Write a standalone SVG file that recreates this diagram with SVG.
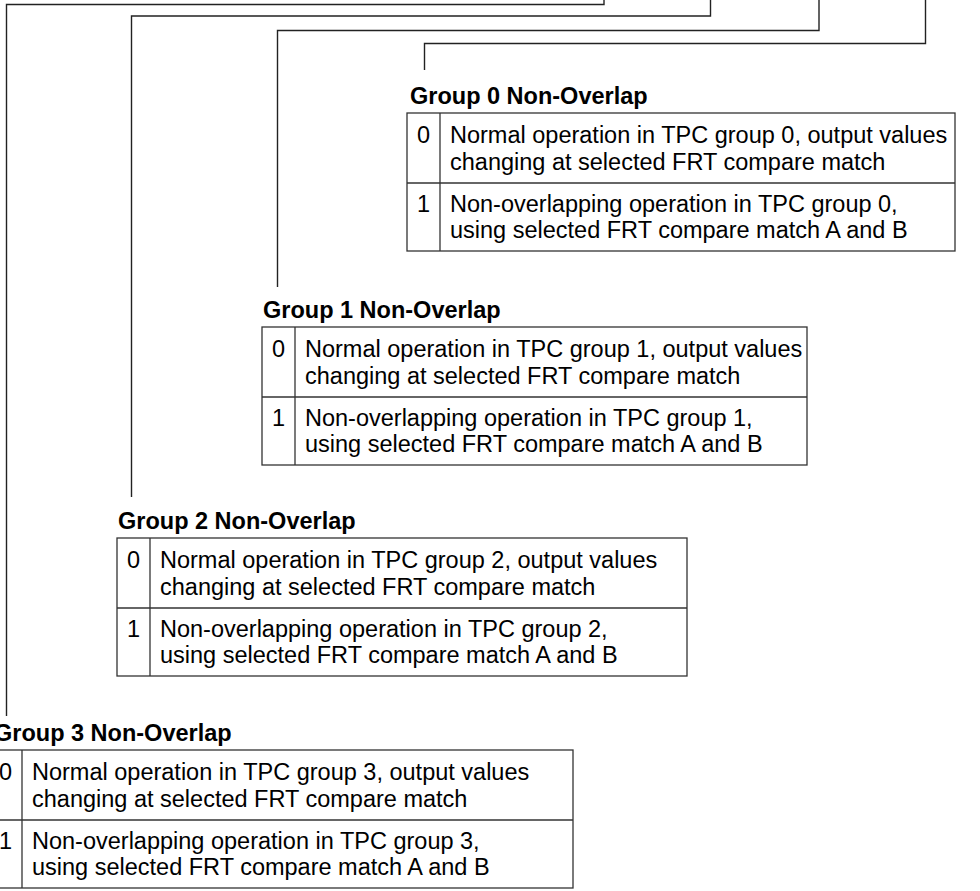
<svg xmlns="http://www.w3.org/2000/svg" width="980" height="891" viewBox="0 0 980 891">
<style>
.bg{fill:#fff}
.con{fill:none;stroke:#222;stroke-width:1.4}
.box{fill:#fff;stroke:#333;stroke-width:1.3}
.div{stroke:#333;stroke-width:1.3}
.title{font-family:"Liberation Sans",Arial,sans-serif;font-weight:bold;font-size:23.5px;fill:#000}
.t{font-family:"Liberation Sans",Arial,sans-serif;font-size:23.5px;fill:#000}
.d{font-family:"Liberation Sans",Arial,sans-serif;font-size:23.5px;fill:#000;text-anchor:middle}
</style>
<rect class="bg" x="0" y="0" width="980" height="891"/>
<g id="connectors">
<path class="con" d="M925.5,0 V43.5 H424.5 V70"/>
<path class="con" d="M819,0 V30.5 H277.5 V287"/>
<path class="con" d="M710.5,0 V16 H131.5 V497"/>
<path class="con" d="M604,0 V4.5 H6.5 V716"/>
</g>
<g id="group0" transform="translate(407,113)">
<text class="title" x="3" y="-9">Group 0 Non-Overlap</text>
<rect class="box" x="0" y="0" width="548" height="138"/>
<line class="div" x1="33" y1="0" x2="33" y2="138"/>
<line class="div" x1="0" y1="70" x2="548" y2="70"/>
<text class="d" x="16.5" y="30">0</text>
<text class="t" x="43" y="30">Normal operation in TPC group 0, output values</text>
<text class="t" x="43" y="57">changing at selected FRT compare match</text>
<text class="d" x="16.5" y="99">1</text>
<text class="t" x="43" y="99">Non-overlapping operation in TPC group 0,</text>
<text class="t" x="43" y="125">using selected FRT compare match A and B</text>
</g>
<g id="group1" transform="translate(262,327)">
<text class="title" x="1" y="-9">Group 1 Non-Overlap</text>
<rect class="box" x="0" y="0" width="545" height="138"/>
<line class="div" x1="33" y1="0" x2="33" y2="138"/>
<line class="div" x1="0" y1="70" x2="545" y2="70"/>
<text class="d" x="16.5" y="30">0</text>
<text class="t" x="43" y="30">Normal operation in TPC group 1, output values</text>
<text class="t" x="43" y="57">changing at selected FRT compare match</text>
<text class="d" x="16.5" y="99">1</text>
<text class="t" x="43" y="99">Non-overlapping operation in TPC group 1,</text>
<text class="t" x="43" y="125">using selected FRT compare match A and B</text>
</g>
<g id="group2" transform="translate(117,538)">
<text class="title" x="1" y="-9">Group 2 Non-Overlap</text>
<rect class="box" x="0" y="0" width="570" height="138"/>
<line class="div" x1="33" y1="0" x2="33" y2="138"/>
<line class="div" x1="0" y1="70" x2="570" y2="70"/>
<text class="d" x="16.5" y="30">0</text>
<text class="t" x="43" y="30">Normal operation in TPC group 2, output values</text>
<text class="t" x="43" y="57">changing at selected FRT compare match</text>
<text class="d" x="16.5" y="99">1</text>
<text class="t" x="43" y="99">Non-overlapping operation in TPC group 2,</text>
<text class="t" x="43" y="125">using selected FRT compare match A and B</text>
</g>
<g id="group3" transform="translate(-11,750)">
<text class="title" x="5" y="-9">Group 3 Non-Overlap</text>
<rect class="box" x="0" y="0" width="584" height="138"/>
<line class="div" x1="33" y1="0" x2="33" y2="138"/>
<line class="div" x1="0" y1="70" x2="584" y2="70"/>
<text class="d" x="16.5" y="30">0</text>
<text class="t" x="43" y="30">Normal operation in TPC group 3, output values</text>
<text class="t" x="43" y="57">changing at selected FRT compare match</text>
<text class="d" x="16.5" y="99">1</text>
<text class="t" x="43" y="99">Non-overlapping operation in TPC group 3,</text>
<text class="t" x="43" y="125">using selected FRT compare match A and B</text>
</g>
</svg>
